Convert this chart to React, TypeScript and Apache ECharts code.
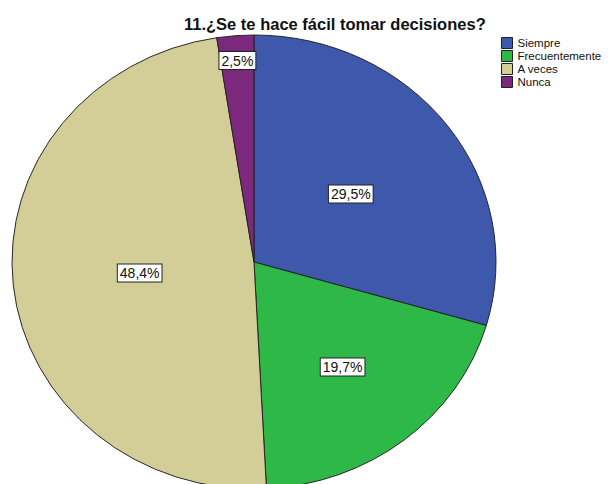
import React, { useEffect, useRef } from "react";
import * as echarts from "echarts";

const titleText = "11.¿Se te hace fácil tomar decisiones?";
const categories = ["Siempre", "Frecuentemente", "A veces", "Nunca"];
const counts = [36, 24, 59, 3];
const colors = ["#3E58AC", "#2EB848", "#D3CE97", "#7C287D"];
const labelRadius = [0.5, 0.59, 0.475, 0.89];

const FONT = "Arial, 'Liberation Sans', sans-serif";
const CX = 254;
const CY = 262;
const RX = 242;
const RY = 227;

export default function App() {
  const ref = useRef<HTMLDivElement>(null);
  useEffect(() => {
    if (!ref.current) return;
    const chart = echarts.init(ref.current, null, { renderer: "svg" });
    const total = counts.reduce((a, b) => a + b, 0);
    const starts: number[] = [];
    let acc = 0;
    counts.forEach((c) => {
      starts.push(acc);
      acc += c;
    });
    const series = categories.map((name, i) => ({
      type: "custom",
      name,
      coordinateSystem: "none",
      itemStyle: { color: colors[i], borderColor: "#222", borderWidth: 1 },
      data: [[counts[i]]],
      renderItem: (params: any, api: any) => {
        const v = api.value(0);
        const f0 = starts[i] / total;
        const f1 = (starts[i] + v) / total;
        const sa = -Math.PI / 2 + f0 * Math.PI * 2;
        const ea = -Math.PI / 2 + f1 * Math.PI * 2;
        const mid = ((f0 + f1) / 2) * Math.PI * 2;
        const lx = CX + labelRadius[i] * RX * Math.sin(mid);
        const ly = CY - labelRadius[i] * RY * Math.cos(mid);
        const pct = ((v / total) * 100).toFixed(1).replace(".", ",") + "%";
        return {
          type: "group",
          children: [
            {
              type: "group",
              x: CX,
              y: CY,
              scaleY: RY / RX,
              children: [
                {
                  type: "sector",
                  shape: { cx: 0, cy: 0, r0: 0, r: RX, startAngle: sa, endAngle: ea, clockwise: true },
                  style: { fill: colors[i], stroke: "#222", lineWidth: 1 },
                },
              ],
            },
            {
              type: "text",
              x: lx,
              y: ly,
              z2: 100,
              style: {
                text: pct,
                fill: "#111",
                font: `14px ${FONT}`,
                align: "center",
                verticalAlign: "middle",
                backgroundColor: "#fff",
                borderColor: "#222",
                borderWidth: 1,
                padding: [2, 2, 1, 2],
              },
            },
          ],
        };
      },
    }));
    chart.setOption({
      animation: false,
      backgroundColor: "#fff",
      title: {
        text: titleText,
        left: 179,
        top: 10,
        textStyle: { fontSize: 16.5, fontWeight: "bold", color: "#111", fontFamily: FONT },
      },
      legend: {
        orient: "vertical",
        left: 501,
        top: 37,
        itemWidth: 11,
        itemHeight: 11,
        itemGap: 1,
        icon: "rect",
        itemStyle: { borderColor: "#222", borderWidth: 1 },
        textStyle: { fontSize: 11.5, lineHeight: 12, color: "#111", fontFamily: FONT, padding: 0 },
        padding: 0,
        data: categories,
        selectedMode: false,
      },
      series,
    } as any);
    return () => chart.dispose();
  }, []);
  return (
    <div
      ref={ref}
      style={{ position: "absolute", left: 0, top: 0, width: 612, height: 484 }}
    />
  );
}
